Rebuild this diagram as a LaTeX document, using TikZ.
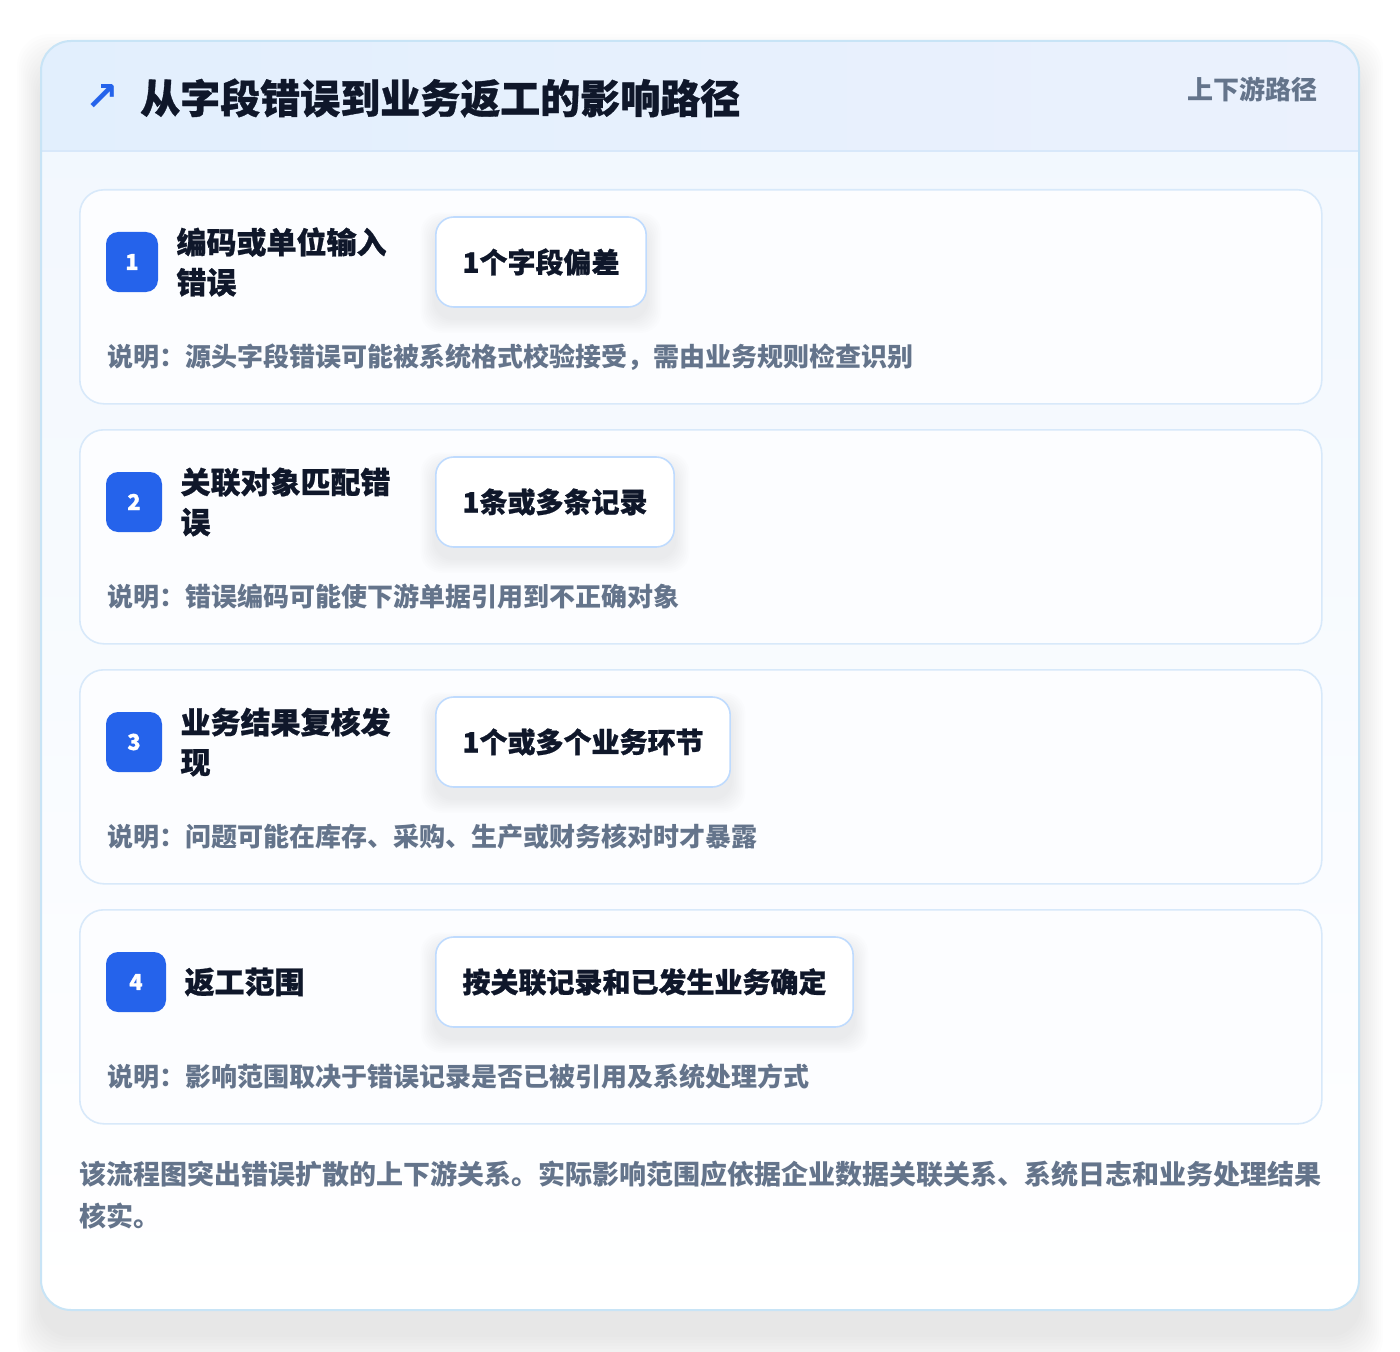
\documentclass[tikz,border=0pt]{standalone}
\usepackage{fontspec}
\setmainfont{Noto Sans CJK SC}
\newfontfamily\heavy{Noto Sans CJK SC}[BoldFeatures={FakeBold=0.8}]
\newfontfamily\symfont{DejaVu Sans}
\usetikzlibrary{positioning}

\definecolor{titleink}{HTML}{0F172A}
\definecolor{noteink}{HTML}{64748B}
\definecolor{badgeblue}{HTML}{2563EB}
\definecolor{outerline}{HTML}{C8E4F6}
\definecolor{headline}{HTML}{D8E8FA}
\definecolor{headleft}{HTML}{E2EFFD}
\definecolor{headright}{HTML}{EBF1FD}
\definecolor{bodytop}{HTML}{F1F7FE}
\definecolor{cardline}{HTML}{D8E9FA}
\definecolor{cardfill}{HTML}{FCFDFF}
\definecolor{pillline}{HTML}{BFDBFE}

\pgfdeclarelayer{back}
\pgfdeclarelayer{shade}
\pgfsetlayers{back,shade,main}

\begin{document}
\begin{tikzpicture}[x=0.75pt,y=-0.75pt,
    cardbox/.style={draw=cardline, line width=1.2pt, fill=cardfill, rounded corners=18pt,
        minimum width=931.5pt, minimum height=160.5pt, anchor=north west, inner sep=0pt},
    badge/.style={fill=badgeblue, text=white, rounded corners=9pt, minimum width=42pt,
        minimum height=45pt, inner sep=0pt, font=\heavy\fontsize{16.5}{16.5}\selectfont\bfseries},
    steptext/.style={anchor=west, align=left, inner sep=0pt, text=titleink,
        font=\heavy\fontsize{22.5}{30}\selectfont\bfseries},
    pill/.style={anchor=west, draw=pillline, line width=1.2pt, fill=white, rounded corners=13.5pt,
        minimum height=67.5pt, inner xsep=20pt, text=titleink, font=\heavy\fontsize{21}{21}\selectfont\bfseries},
    note/.style={anchor=west, inner sep=0pt, text=noteink, font=\fontsize{19.5}{19.5}\selectfont\bfseries}]

    \useasboundingbox (0,0) rectangle (1400,1352);

    \begin{pgfonlayer}{back}
    \fill[white] (0,0) rectangle (1400,1352);
    % outer card with its soft shadow
    \foreach \k in {1,...,12}
        \fill[black, opacity=0.006, rounded corners=24pt]
            ({41-2*\k},{70-3*\k}) rectangle ({1359+2*\k},{1334+3*\k});
    \fill[white, rounded corners=22.5pt] (41,41) rectangle (1359,1310);
    \shade[top color=bodytop, bottom color=white, rounded corners=22.5pt] (41,41) rectangle (1359,1310);
    \begin{scope}
        \clip[rounded corners=22.5pt] (41,41) rectangle (1359,1310);
        \shade[left color=headleft, right color=headright] (41,41) rectangle (1359,151);
    \end{scope}
    \draw[headline, line width=1pt] (41,151) -- (1359,151);
    \draw[outerline, line width=1.5pt, rounded corners=22.5pt] (41,41) rectangle (1359,1310);

    \node (card1) [cardbox] at (79,189) {};
    \node (card2) [cardbox] at (79,429) {};
    \node (card3) [cardbox] at (79,669) {};
    \node (card4) [cardbox] at (79,909) {};
    \end{pgfonlayer}

    % header
    \node (icon) [text=badgeblue, inner sep=0pt, font=\symfont\bfseries\fontsize{30}{30}\selectfont] at (102,98) {↗};
    \node (title) [anchor=west, inner sep=0pt, text=titleink, font=\heavy\fontsize{30}{30}\selectfont\bfseries]
        at (140,98) {从字段错误到业务返工的影响路径};
    \node (tag) [anchor=east, inner sep=0pt, text=noteink, font=\fontsize{19.5}{19.5}\selectfont\bfseries]
        at (1318,89) {上下游路径};

    % step 1
    \node (badge1) [badge, minimum width=39pt] at (132,262) {1};
    \node (step1) [steptext, right=13.5pt of badge1] {编码或单位输入\\错误};
    \node (pill1) [pill] at (435,262) {1个字段偏差};
    \node (note1) [note] at (107,357) {说明：源头字段错误可能被系统格式校验接受，需由业务规则检查识别};

    % step 2
    \node (badge2) [badge] at (134,502) {2};
    \node (step2) [steptext, right=13.5pt of badge2] {关联对象匹配错\\误};
    \node (pill2) [pill] at (435,502) {1条或多条记录};
    \node (note2) [note] at (107,597) {说明：错误编码可能使下游单据引用到不正确对象};

    % step 3
    \node (badge3) [badge] at (134,742) {3};
    \node (step3) [steptext, right=13.5pt of badge3] {业务结果复核发\\现};
    \node (pill3) [pill] at (435,742) {1个或多个业务环节};
    \node (note3) [note] at (107,837) {说明：问题可能在库存、采购、生产或财务核对时才暴露};

    % step 4
    \node (badge4) [badge, minimum width=45pt] at (136,982) {4};
    \node (step4) [steptext, right=13.5pt of badge4] {返工范围};
    \node (pill4) [pill] at (435,982) {按关联记录和已发生业务确定};
    \node (note4) [note] at (107,1077) {说明：影响范围取决于错误记录是否已被引用及系统处理方式};

    % soft shadows under the pills
    \begin{pgfonlayer}{shade}
    \foreach \p in {pill1,pill2,pill3,pill4}
        \foreach \k in {1,...,9}
            \fill[black, opacity=0.008, rounded corners=15pt]
                ([xshift=-\k*1.2pt, yshift=-8pt-\k*1.2pt]\p.south west)
                rectangle ([xshift=\k*1.2pt, yshift=-8pt+\k*1.2pt]\p.north east);
    \end{pgfonlayer}

    % summary
    \node (summary) [anchor=north west, align=left, inner sep=0pt, text=noteink,
        font=\fontsize{20.25}{31.5}\selectfont\bfseries] at (79,1161)
        {该流程图突出错误扩散的上下游关系。实际影响范围应依据企业数据关联关系、系统日志和业务处理结果\\核实。};
\end{tikzpicture}
\end{document}
